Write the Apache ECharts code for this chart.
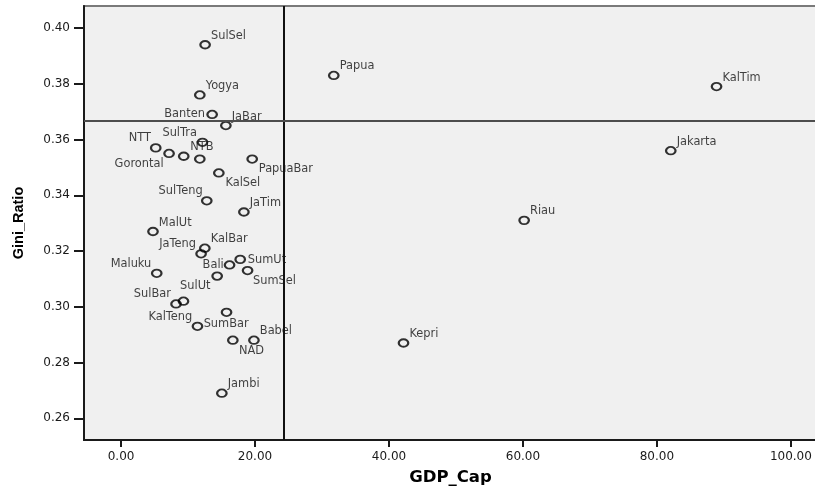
<!DOCTYPE html>
<html>
<head>
<meta charset="utf-8">
<script src="https://cdn.jsdelivr.net/npm/echarts@6/dist/echarts.min.js"></script>
<style>
html,body{margin:0;padding:0;background:#ffffff;}
#chart{width:815px;height:488px;}
</style>
</head>
<body>
<div id="chart"></div>
<script>
// ---- data ----
const provinces = ["SulSel","Yogya","Banten","JaBar","SulTra","NTT","Gorontalo","Bengkulu","NTB","PapuaBar",
  "KalSel","SulTeng","JaTim","MalUt","KalBar","JaTeng","SumUt","Bali","SumSel","Maluku",
  "SulUt","SulBar","KalTeng","Lampung","SumBar","NAD","Babel","Jambi","Papua","KalTim",
  "Jakarta","Riau","Kepri"];
const pointLabels = ["SulSel","Yogya","Banten","JaBar","SulTra","NTT","Gorontal","","NTB","PapuaBar",
  "KalSel","SulTeng","JaTim","MalUt","KalBar","JaTeng","SumUt","Bali","SumSel","Maluku",
  "SulUt","SulBar","KalTeng","","SumBar","NAD","Babel","Jambi","Papua","KalTim",
  "Jakarta","Riau","Kepri"];
const gdpCap = [12.55,11.76,13.60,15.65,12.16,5.18,7.17,9.36,11.76,19.58,
  14.60,12.80,18.34,4.77,12.51,11.95,17.79,16.20,18.89,5.33,
  14.35,8.21,9.32,15.75,11.41,16.69,19.84,15.05,31.76,88.90,
  82.07,60.18,42.17];
const giniRatio = [0.394,0.376,0.369,0.365,0.359,0.357,0.355,0.354,0.353,0.353,
  0.348,0.338,0.334,0.327,0.321,0.319,0.317,0.315,0.313,0.312,
  0.311,0.301,0.302,0.298,0.293,0.288,0.288,0.269,0.383,0.379,
  0.356,0.331,0.287];
const xTickValues = [0, 20, 40, 60, 80, 100];
const yTickValues = [0.26, 0.28, 0.30, 0.32, 0.34, 0.36, 0.38, 0.40];
const refGdpCap = 24.35;   // vertical reference line
const refGini = 0.3669;    // horizontal reference line

// ---- label placement (style only): [align, dx, dy] from the point centre ----
const defaultPlacement = ['left', 7, -9];
const labelPlacement = {
  Banten:['right',-6,0], SulTra:['right',-4.4,-9.2], NTT:['right',-3.7,-9.6], NTB:['center',3.3,-11.6],
  Gorontal:['right',-4.3,10.7], PapuaBar:['left',7.7,9.7], KalSel:['left',7.7,10.3], SulTeng:['right',-3,-9.9],
  JaTeng:['right',-4,-9.6], SumUt:['left',8.7,0.7], Bali:['right',-4.7,0], SumSel:['left',6.6,10.2],
  Maluku:['right',-4.3,-9.3], SulUt:['right',-5.6,10], SulBar:['right',-4,-10], KalTeng:['center',-12,16],
  SumBar:['left',7.3,-1.9], NAD:['left',7.3,10.8]
};
const symW = 9.5, symH = 7.5, labelShiftY = 1;

const points = provinces.map((p, i) => {
  const lbl = pointLabels[i];
  const pl = labelPlacement[lbl] || defaultPlacement;
  return {
    name: p,
    value: [gdpCap[i], giniRatio[i]],
    label: {
      show: lbl !== '',
      formatter: lbl,
      position: [symW / 2 + pl[1], symH / 2 + pl[2] + labelShiftY],
      align: pl[0],
      verticalAlign: 'middle'
    }
  };
});

const chart = echarts.init(document.getElementById('chart'), null, {renderer: 'canvas'});
chart.setOption({
  animation: false,
  backgroundColor: '#ffffff',
  grid: {
    left: 84, top: 6, right: -2, bottom: 48,
    show: true, backgroundColor: '#f0f0f0',
    borderColor: '#7a7a7a', borderWidth: 2,
    containLabel: false, outerBoundsMode: 'none'
  },
  xAxis: {
    type: 'value', min: -5.53, max: 103.9,
    name: 'GDP_Cap', nameLocation: 'middle', nameGap: 29,
    nameTextStyle: {fontFamily: 'DejaVu Sans', fontWeight: 'bold', fontSize: 16.5, color: '#000', verticalAlign: 'top'},
    axisLine: {show: true, onZero: false, lineStyle: {color: '#1a1a1a', width: 2}},
    axisTick: {show: true, length: 7, customValues: xTickValues, lineStyle: {color: '#1a1a1a', width: 2}},
    axisLabel: {customValues: xTickValues, formatter: v => v.toFixed(2), margin: 11,
      fontFamily: 'DejaVu Sans', fontSize: 12, color: '#1a1a1a'},
    splitLine: {show: false}
  },
  yAxis: {
    type: 'value', min: 0.2522, max: 0.4079,
    name: 'Gini_Ratio', nameLocation: 'middle', nameGap: 58, nameRotate: 90,
    nameTextStyle: {fontFamily: 'Liberation Sans', fontWeight: 'bold', fontSize: 14.5, color: '#000'},
    axisLine: {show: true, onZero: false, lineStyle: {color: '#1a1a1a', width: 2}},
    axisTick: {show: true, length: 10, customValues: yTickValues, lineStyle: {color: '#1a1a1a', width: 2}},
    axisLabel: {customValues: yTickValues, formatter: v => v.toFixed(2), margin: 14,
      fontFamily: 'DejaVu Sans', fontSize: 12, color: '#1a1a1a'},
    splitLine: {show: false}
  },
  series: [{
    type: 'scatter',
    data: points,
    symbol: 'circle',
    symbolSize: [symW, symH],
    itemStyle: {color: 'rgba(0,0,0,0)', borderColor: '#000', borderWidth: 2},
    label: {fontFamily: 'DejaVu Sans', fontSize: 11.4, color: '#111'},
    markLine: {
      silent: true, symbol: 'none', animation: false, precision: 5,
      label: {show: false},
      data: [
        {xAxis: refGdpCap, lineStyle: {color: '#111', width: 2, type: 'solid'}},
        {yAxis: refGini, lineStyle: {color: '#4d4d4d', width: 2, type: 'solid'}}
      ]
    }
  }]
});
</script>
</body>
</html>
